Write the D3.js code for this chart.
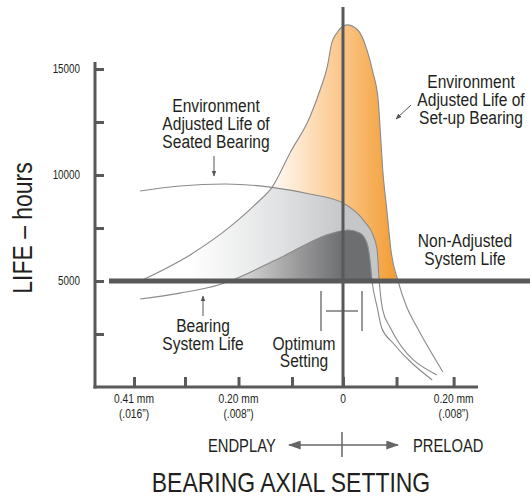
<!DOCTYPE html>
<html><head><meta charset="utf-8">
<script src="https://cdn.jsdelivr.net/npm/d3@7/dist/d3.min.js"></script>
<style>
html,body{margin:0;padding:0;background:#fff;}
svg{display:block;}
</style></head>
<body>
<svg id="chart" width="530" height="496"></svg>
<script>
// ---------- data (x: axial setting in mm, negative = endplay; y: life in hours) ----------
const setupX   = [-0.398,-0.300,-0.222,-0.169,-0.139,-0.104,-0.065,-0.045,-0.031,-0.022,-0.012,0.008,0.029,0.047,0.059,0.069,0.073,0.078,0.086,0.094,0.108,0.125,0.145,0.196];
const setupY   = [5000,6230,7550,8680,9430,11040,12740,14010,15090,16230,16700,17080,16840,15900,14810,13540,12120,10240,8350,6460,5000,3770,2830,710];
const seatedX  = [-0.398,-0.320,-0.231,-0.143,-0.065,0.000,0.043,0.059,0.067,0.071,0.078,0.092,0.184];
const seatedY  = [9245,9480,9575,9430,9100,8680,7780,7170,6460,5000,3630,2830,570];
const systemX  = [-0.398,-0.320,-0.245,-0.222,-0.124,-0.020,0.010,0.033,0.047,0.053,0.057,0.067,0.076,0.098,0.175];
const systemY  = [4150,4430,4810,5000,6085,7265,7405,7265,6790,5990,5000,3770,2780,2075,330];
const nonAdjusted = 5000;
const yTicks = [2500,5000,7500,10000,12500,15000];
const yTickLabels = ["","5000","","10000","","15000"];
const xTicks = [-0.41,-0.31,-0.205,-0.10,0,0.105,0.217];
const xTickLabels1 = ["0.41 mm","","0.20 mm","","0","","0.20 mm"];
const xTickLabels2 = ["(.016\u201D)","","(.008\u201D)","","","","(.008\u201D)"];

// ---------- setup ----------
const FONT = "'Liberation Sans',Arial,sans-serif";
const SX = 0.82; // horizontal condensing
const AX = "#58595b", TXT = "#231f20", LINE = "#8a8a8a";
const svg = d3.select("#chart");
const x = d3.scaleLinear().domain([-0.41, 0]).range([134, 343]);
const y = d3.scaleLinear().domain([0, 15000]).range([387, 69]);
const toPts = (xs, ys) => xs.map((v,i) => ({x:v, y:ys[i]}));
const setup = toPts(setupX, setupY), seated = toPts(seatedX, seatedY), system = toPts(systemX, systemY);

function txt(px, py, str, size, anchor, rot){
  const g = svg.append("g").attr("transform", `translate(${px},${py})${rot ? ` rotate(${rot})` : ""} scale(${SX},1)`);
  g.append("text").attr("x",0).attr("y",0).attr("text-anchor", anchor || "middle")
    .attr("font-family", FONT).attr("font-size", size).attr("fill", TXT).text(str);
  return g;
}

const defs = svg.append("defs");
function grad(id, x1, x2, stops){
  const g = defs.append("linearGradient").attr("id", id).attr("gradientUnits","userSpaceOnUse")
    .attr("x1", x1).attr("x2", x2).attr("y1", 0).attr("y2", 0);
  stops.forEach(s => g.append("stop").attr("offset", s[0]).attr("stop-color", s[1]));
}
grad("gOrange", x(-0.125), x(0.095), [[0,"#fff5ec"],[0.5,"#fbcb93"],[1,"#f4a03a"]]);
grad("gLight", x(-0.30), x(0.005), [[0,"#ffffff"],[0.55,"#e2e3e4"],[1,"#c5c6c8"]]);
grad("gDark", x(-0.21), x(0.0), [[0,"#dcdcdc"],[0.6,"#989899"],[1,"#6d6e70"]]);

const curve = d3.curveMonotoneX;
const area = d3.area().x(d => x(d.x)).y0(y(nonAdjusted)).y1(d => y(d.y))
  .defined(d => d.y >= nonAdjusted).curve(curve);
const line = d3.line().x(d => x(d.x)).y(d => y(d.y)).curve(curve);

defs.append("clipPath").attr("id","setupClip").append("path").attr("d", area(setup));

svg.append("path").attr("d", area(setup)).attr("fill","url(#gOrange)");
svg.append("path").attr("d", area(seated)).attr("fill","url(#gLight)").attr("clip-path","url(#setupClip)");
svg.append("path").attr("d", area(system)).attr("fill","url(#gDark)").attr("clip-path","url(#setupClip)");

[setup, seated, system].forEach(s =>
  svg.append("path").attr("d", line(s)).attr("fill","none").attr("stroke",LINE).attr("stroke-width",1.1));

// centre (zero) line
svg.append("line").attr("x1", x(0)).attr("x2", x(0)).attr("y1", 7).attr("y2", y(0))
  .attr("stroke", AX).attr("stroke-width", 3);

// non-adjusted system life bar
svg.append("line").attr("x1", 109).attr("x2", 530).attr("y1", y(nonAdjusted)).attr("y2", y(nonAdjusted))
  .attr("stroke", AX).attr("stroke-width", 5);

// axes
const yAxis = d3.axisLeft(y).tickValues(yTicks).tickSize(-9).tickFormat("");
const gy = svg.append("g").attr("transform","translate(95,0)").call(yAxis);
gy.select(".domain").remove();
gy.selectAll(".tick line").attr("stroke", AX).attr("stroke-width", 3);
yTicks.forEach((v,i) => { if (yTickLabels[i]) txt(80, y(v) + 4, yTickLabels[i], 12, "end"); });
svg.append("line").attr("x1",95).attr("x2",95).attr("y1",62).attr("y2",y(0)+1.5).attr("stroke",AX).attr("stroke-width",3);

const xAxis = d3.axisBottom(x).tickValues(xTicks).tickSize(-10).tickFormat("");
const gx = svg.append("g").attr("transform",`translate(0,${y(0)})`).call(xAxis);
gx.select(".domain").remove();
gx.selectAll(".tick line").attr("stroke", AX).attr("stroke-width", 3);
svg.append("line").attr("x1",93.5).attr("x2",478).attr("y1",y(0)).attr("y2",y(0)).attr("stroke",AX).attr("stroke-width",3);
xTicks.forEach((v,i) => {
  if (xTickLabels1[i]) txt(x(v), 403, xTickLabels1[i], 12.5);
  if (xTickLabels2[i]) txt(x(v), 418, xTickLabels2[i], 12.5);
});

// markers
defs.append("marker").attr("id","aSmall").attr("viewBox","0 0 10 10").attr("refX",9).attr("refY",5)
  .attr("markerWidth",6).attr("markerHeight",6).attr("markerUnits","userSpaceOnUse").attr("orient","auto")
  .append("path").attr("d","M0,1 L10,5 L0,9 Z").attr("fill","#555");
defs.append("marker").attr("id","aBig").attr("viewBox","0 0 14 10").attr("refX",13).attr("refY",5)
  .attr("markerWidth",13).attr("markerHeight",9).attr("markerUnits","userSpaceOnUse").attr("orient","auto")
  .append("path").attr("d","M0,0 L14,5 L0,10 Z").attr("fill","#666");

// annotation texts
function multi(lines, cx, y0, dy, size){
  lines.forEach((t,i) => txt(cx, y0 + i*dy, t, size));
}
multi(["Environment","Adjusted Life of","Seated Bearing"], 216, 112, 17.8, 19);
multi(["Environment","Adjusted Life of","Set-up Bearing"], 471, 88, 18, 19);
multi(["Non-Adjusted","System Life"], 465, 247, 18, 19);
multi(["Bearing","System Life"], 203, 332, 18, 19);
multi(["Optimum","Setting"], 304, 350, 17, 19);

// annotation arrows
function arrow(x1,y1,x2,y2){
  svg.append("line").attr("x1",x1).attr("y1",y1).attr("x2",x2).attr("y2",y2)
    .attr("stroke","#555").attr("stroke-width",1).attr("marker-end","url(#aSmall)");
}
arrow(214,156,214,176);
arrow(411,105,396,119);
arrow(203,316,203,296);

// optimum setting bracket
const brk = [[321,291,321,331],[362,291,362,331],[326,311,358,311]];
brk.forEach(b => svg.append("line").attr("x1",b[0]).attr("y1",b[1]).attr("x2",b[2]).attr("y2",b[3])
  .attr("stroke","#555").attr("stroke-width",1.2));

// endplay / preload
txt(208, 452, "ENDPLAY", 18, "start");
txt(413, 452, "PRELOAD", 18, "start");
svg.append("line").attr("x1",330).attr("x2",289).attr("y1",445).attr("y2",445).attr("stroke","#666").attr("stroke-width",1.5).attr("marker-end","url(#aBig)");
svg.append("line").attr("x1",330).attr("x2",398).attr("y1",445).attr("y2",445).attr("stroke","#666").attr("stroke-width",1.5).attr("marker-end","url(#aBig)");
svg.append("line").attr("x1",342).attr("x2",342).attr("y1",432).attr("y2",457).attr("stroke","#666").attr("stroke-width",1.5);

// axis titles
txt(291, 492, "BEARING AXIAL SETTING", 28);
txt(32, 228, "LIFE \u2013 hours", 28, "middle", -90);
</script>
</body></html>
